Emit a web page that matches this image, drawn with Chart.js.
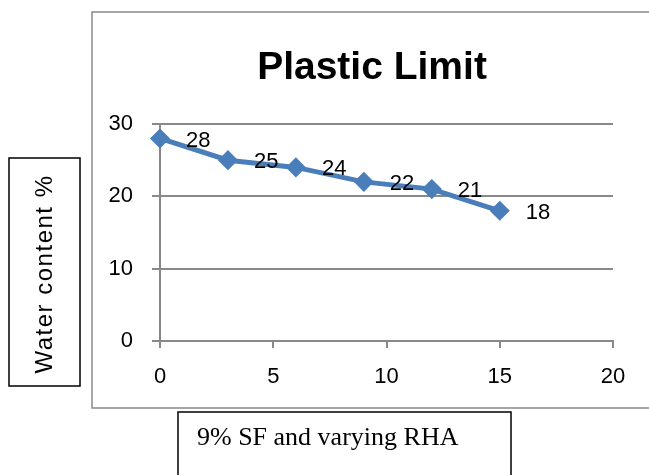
<!DOCTYPE html>
<html>
<head>
<meta charset="utf-8">
<script src="https://cdn.jsdelivr.net/npm/chart.js@4.4.1/dist/chart.umd.min.js"></script>
<style>
  html, body { margin: 0; padding: 0; background: #fff; }
  canvas { display: block; }
</style>
</head>
<body>
<canvas id="plChart" width="649" height="475"></canvas>
<script>
// data
const rhaPercent = [0, 3, 6, 9, 12, 15];
const waterContent = [28, 25, 24, 22, 21, 18];
const xTicks = [0, 5, 10, 15, 20];
const yTicks = [0, 10, 20, 30];

const chartTitle = 'Plastic Limit';
const yLabel = 'Water content %';
const xLabel = '9% SF and varying RHA';

const lineBlue = '#4a7ebb';
const gridGray = '#898989';
const sansFont = '"Liberation Sans", Arial, sans-serif';

// boxes, title and value labels are drawn around the chart
const decorations = {
    id: 'decorations',
    beforeDraw(chart) {
        const ctx = chart.ctx;
        ctx.save();
        ctx.fillStyle = '#fff';
        ctx.fillRect(0, 0, chart.width, chart.height);
        // outer chart frame
        ctx.strokeStyle = gridGray;
        ctx.lineWidth = 1.5;
        ctx.strokeRect(92, 12, 600, 396);
        ctx.restore();
    },
    afterDraw(chart) {
        const ctx = chart.ctx;
        ctx.save();

        // title
        ctx.fillStyle = '#000';
        ctx.font = 'bold 39px ' + sansFont;
        ctx.textAlign = 'center';
        ctx.textBaseline = 'alphabetic';
        ctx.fillText(chartTitle, 372, 79);

        // y axis title box
        ctx.strokeStyle = '#000';
        ctx.lineWidth = 1.5;
        ctx.strokeRect(9, 158, 71, 228);
        ctx.save();
        ctx.translate(45, 274);
        ctx.rotate(-Math.PI / 2);
        ctx.font = '24px ' + sansFont;
        ctx.letterSpacing = '1.5px';
        ctx.textAlign = 'center';
        ctx.textBaseline = 'middle';
        ctx.fillText(yLabel, 0, 0);
        ctx.restore();

        // x axis title box
        ctx.strokeRect(178, 412, 333, 80);
        ctx.font = '26px "Liberation Serif", "Times New Roman", serif';
        ctx.textAlign = 'left';
        ctx.textBaseline = 'middle';
        ctx.fillText(xLabel, 197, 438);

        // value labels right of each point
        const meta = chart.getDatasetMeta(0);
        ctx.font = '22px ' + sansFont;
        ctx.textAlign = 'left';
        ctx.textBaseline = 'middle';
        meta.data.forEach((pt, i) => {
            ctx.fillText(String(waterContent[i]), pt.x + 26, pt.y + 2);
        });
        ctx.restore();
    }
};

const ctx = document.getElementById('plChart').getContext('2d');
new Chart(ctx, {
    type: 'line',
    data: {
        datasets: [{
            data: rhaPercent.map((x, i) => ({ x: x, y: waterContent[i] })),
            borderColor: lineBlue,
            backgroundColor: lineBlue,
            borderWidth: 5,
            pointStyle: 'rectRot',
            pointRadius: 9,
            pointBorderWidth: 1.5,
            pointBackgroundColor: lineBlue,
            pointBorderColor: lineBlue,
            tension: 0,
            clip: false
        }]
    },
    options: {
        responsive: false,
        animation: false,
        devicePixelRatio: 1,
        layout: {
            padding: { left: 0, top: 124, right: 36, bottom: 0 }
        },
        plugins: {
            legend: { display: false },
            title: { display: false },
            tooltip: { enabled: false }
        },
        scales: {
            x: {
                type: 'linear',
                min: xTicks[0],
                max: xTicks[xTicks.length - 1],
                afterBuildTicks: scale => { scale.ticks = xTicks.map(v => ({ value: v })); },
                afterFit: scale => { scale.height = 134; },
                grid: {
                    drawOnChartArea: false,
                    drawTicks: true,
                    tickLength: 7,
                    color: gridGray,
                    lineWidth: 2
                },
                border: { display: true, color: gridGray, width: 2 },
                ticks: {
                    color: '#000',
                    padding: 16,
                    font: { family: sansFont, size: 22 }
                }
            },
            y: {
                min: yTicks[0],
                max: yTicks[yTicks.length - 1],
                afterBuildTicks: scale => { scale.ticks = yTicks.map(v => ({ value: v })); },
                afterFit: scale => { scale.width = 160; },
                grid: {
                    drawTicks: true,
                    tickLength: 8,
                    color: gridGray,
                    lineWidth: 2
                },
                border: { display: true, color: gridGray, width: 2 },
                ticks: {
                    color: '#000',
                    padding: 19,
                    font: { family: sansFont, size: 22 }
                }
            }
        }
    },
    plugins: [decorations]
});
</script>
</body>
</html>
